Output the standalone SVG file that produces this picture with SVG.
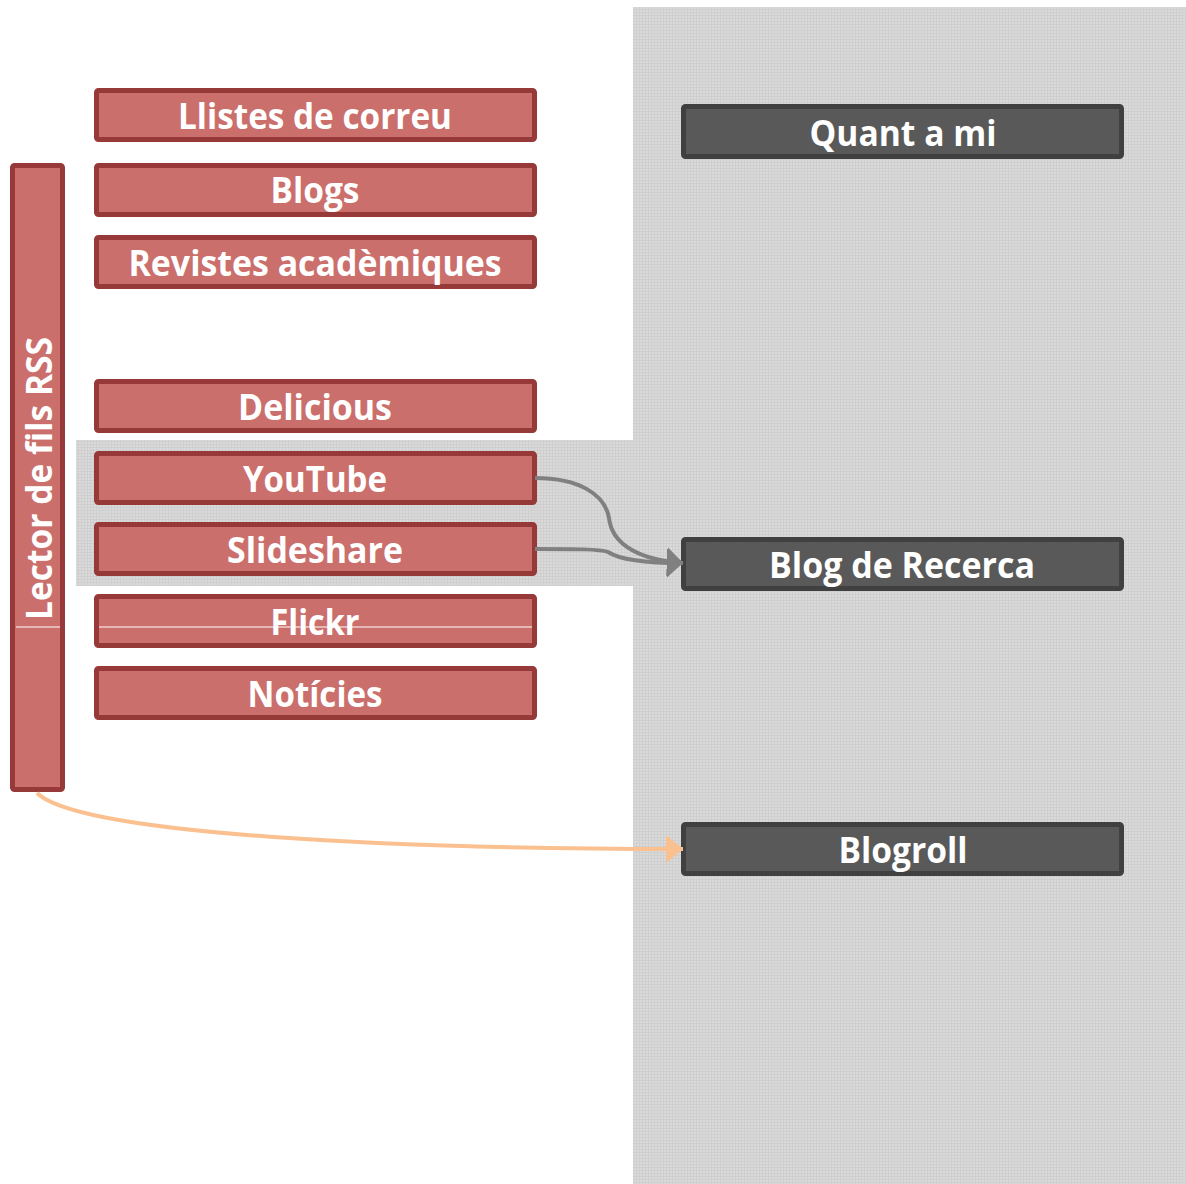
<svg xmlns="http://www.w3.org/2000/svg" width="1186" height="1184" viewBox="0 0 1186 1184">
<defs>
<pattern id="grid" width="3" height="3" patternUnits="userSpaceOnUse">
<rect width="3" height="3" fill="#dadada"/>
<rect width="3" height="1" fill="#cfcfcf"/>
<rect width="1" height="3" fill="#cfcfcf"/>
</pattern>
<marker id="ag" markerWidth="16" markerHeight="29" refX="16" refY="14.5" orient="auto" markerUnits="userSpaceOnUse">
<path d="M0,0 L16,14.5 L0,29 Z" fill="#808080"/>
</marker>
<marker id="ao" markerWidth="17" markerHeight="28" refX="17" refY="14" orient="auto" markerUnits="userSpaceOnUse">
<path d="M0,0 L17,14 L0,28 Z" fill="#fac090"/>
</marker>
</defs>
<style>
.red{fill:#cb6f6c;stroke:#983939;stroke-width:5}
.dark{fill:#595959;stroke:#404040;stroke-width:5}
.t{font-family:"Open Sans","Noto Sans",sans-serif;font-weight:bold;font-size:35px;fill:#ffffff;text-anchor:middle}
.wl{stroke:#ffffff;stroke-width:1.2}
.cg{fill:none;stroke:#808080;stroke-width:4}
.co{fill:none;stroke:#fac090;stroke-width:4}
</style>
<rect width="1186" height="1184" fill="#ffffff"/>
<g id="background">
<rect x="633" y="7" width="553" height="1177" fill="url(#grid)"/>
<rect x="76" y="440" width="557" height="146" fill="url(#grid)"/>
</g>
<g id="lector">
<rect class="red" x="12.5" y="165.5" width="50" height="624" rx="2"/>
<text class="t" transform="translate(52,478.5) rotate(-90)" textLength="283" lengthAdjust="spacingAndGlyphs">Lector de fils RSS</text>
<line class="wl" x1="16" y1="627" x2="60" y2="627"/>
</g>
<g id="llistes">
<rect class="red" x="96.5" y="90.5" width="438" height="49" rx="2"/>
<text class="t" x="315" y="129" textLength="274" lengthAdjust="spacingAndGlyphs">Llistes de correu</text>
</g>
<g id="blogs">
<rect class="red" x="96.5" y="165.5" width="438" height="49" rx="2"/>
<text class="t" x="315" y="203" textLength="89" lengthAdjust="spacingAndGlyphs">Blogs</text>
</g>
<g id="revistes">
<rect class="red" x="96.5" y="237.5" width="438" height="49" rx="2"/>
<text class="t" x="315" y="276" textLength="373" lengthAdjust="spacingAndGlyphs">Revistes acadèmiques</text>
</g>
<g id="delicious">
<rect class="red" x="96.5" y="381.5" width="438" height="49" rx="2"/>
<text class="t" x="315" y="420" textLength="154" lengthAdjust="spacingAndGlyphs">Delicious</text>
</g>
<g id="youtube">
<rect class="red" x="96.5" y="453.5" width="438" height="49" rx="2"/>
<text class="t" x="315" y="492" textLength="144" lengthAdjust="spacingAndGlyphs">YouTube</text>
</g>
<g id="slideshare">
<rect class="red" x="96.5" y="524.5" width="438" height="49" rx="2"/>
<text class="t" x="315" y="563" textLength="176" lengthAdjust="spacingAndGlyphs">Slideshare</text>
</g>
<g id="flickr">
<rect class="red" x="96.5" y="596.5" width="438" height="49" rx="2"/>
<text class="t" x="315" y="635" textLength="89" lengthAdjust="spacingAndGlyphs">Flickr</text>
<line class="wl" x1="99" y1="627" x2="532" y2="627"/>
</g>
<g id="noticies">
<rect class="red" x="96.5" y="668.5" width="438" height="49" rx="2"/>
<text class="t" x="315" y="707" textLength="135" lengthAdjust="spacingAndGlyphs">Notícies</text>
</g>
<g id="quant">
<rect class="dark" x="683.5" y="106.5" width="438" height="50" rx="2"/>
<text class="t" x="903" y="146" textLength="187" lengthAdjust="spacingAndGlyphs">Quant a mi</text>
</g>
<g id="blogrecerca">
<rect class="dark" x="683.5" y="539.5" width="438" height="49" rx="2"/>
<text class="t" x="902" y="578" textLength="266" lengthAdjust="spacingAndGlyphs">Blog de Recerca</text>
</g>
<g id="blogroll">
<rect class="dark" x="683.5" y="824.5" width="438" height="49" rx="2"/>
<text class="t" x="903" y="863" textLength="129" lengthAdjust="spacingAndGlyphs">Blogroll</text>
</g>
<g id="connectors">
<path class="cg" d="M535,478 C580,478 605,495 609,518 C612,545 640,560 683,563" marker-end="url(#ag)"/>
<path class="cg" d="M535,549 C575,549 600,549 608,552 C620,560 650,563 683,563" marker-end="url(#ag)"/>
<path class="co" d="M37,793 C80,835 400,849 683,849" marker-end="url(#ao)"/>
</g>
</svg>
